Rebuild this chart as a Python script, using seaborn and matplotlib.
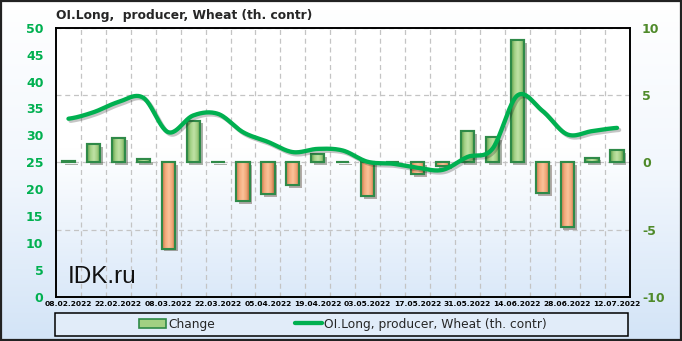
import numpy as np
import pandas as pd
import seaborn as sns
import matplotlib.pyplot as plt
from matplotlib.patches import Rectangle
from matplotlib.lines import Line2D
from matplotlib.colors import LinearSegmentedColormap
import matplotlib.patheffects as pe

# ---------------- data ----------------
dates = ["08.02.2022", "15.02.2022", "22.02.2022", "01.03.2022", "08.03.2022", "15.03.2022",
         "22.03.2022", "29.03.2022", "05.04.2022", "12.04.2022", "19.04.2022", "26.04.2022",
         "03.05.2022", "10.05.2022", "17.05.2022", "24.05.2022", "31.05.2022", "07.06.2022",
         "14.06.2022", "21.06.2022", "28.06.2022", "05.07.2022", "12.07.2022"]
change = [0.1, 1.38, 1.83, 0.22, -6.4, 3.1, 0.05, -2.9, -2.37, -1.7, 0.59, 0.05,
          -2.5, 0.03, -0.89, -0.3, 2.32, 1.87, 9.1, -2.27, -4.8, 0.35, 0.89]
oi_long = [33.1, 34.3, 36.2, 37.0, 30.6, 33.7, 34.0, 30.6, 28.8, 26.9, 27.5, 27.2,
           25.1, 24.75, 24.0, 23.6, 26.0, 27.5, 37.4, 34.6, 30.2, 30.8, 31.4]
left_ticks = [0, 5, 10, 15, 20, 25, 30, 35, 40, 45, 50]
right_ticks = [-10, -5, 0, 5, 10]
title = "OI.Long,  producer, Wheat (th. contr)"
bar_label = "Change"
line_label = "OI.Long, producer, Wheat (th. contr)"

# ---------------- style ----------------
sns.set_theme(style="white")
plt.rcParams["font.family"] = ["DejaVu Sans"]

W, H = 682, 341
fig = plt.figure(figsize=(W / 100, H / 100), dpi=100)

# figure background gradient + outer frame
bg = fig.add_axes([0, 0, 1, 1], zorder=-10)
bg.axis("off")
fig_cmap = LinearSegmentedColormap.from_list("figbg", ["#ffffff", "#f2f7fd", "#d3e4f7"])
grad = np.linspace(0, 1, 256).reshape(-1, 1)
bg.imshow(grad, aspect="auto", cmap=fig_cmap, extent=[0, 1, 0, 1], origin="upper")
bg.set_xlim(0, 1)
bg.set_ylim(0, 1)
bg.add_patch(Rectangle((0.002, 0.003), 0.996, 0.994, fill=False, edgecolor="#222222",
                       lw=1.6, transform=bg.transAxes))
# legend box
bg.add_patch(Rectangle((55.3 / W, 1 - 335.7 / H), (627.7 - 55.3) / W, 23 / H,
                       facecolor="#e1ecf9", edgecolor="black", lw=1.1,
                       transform=bg.transAxes))

# main axes (bars, right scale)
left, right, top, bottom = 56, 629.5, 27.7, 297
ax = fig.add_axes([left / W, 1 - bottom / H, (right - left) / W, (bottom - top) / H])
plot_cmap = LinearSegmentedColormap.from_list("plotbg", [(0, "#ffffff"), (0.45, "#ffffff"), (1, "#dbe9f9")])
ax.imshow(grad, aspect="auto", cmap=plot_cmap, extent=[0, 1, 0, 1], origin="upper",
          transform=ax.transAxes, zorder=0)

df = pd.DataFrame({"date": dates, "change": change})
df["sign"] = np.where(df["change"] >= 0, "pos", "neg")
sns.barplot(data=df, x="date", y="change", hue="sign",
            palette={"pos": "#a2d083", "neg": "#f5ad7e"}, dodge=False, width=0.53,
            saturation=1, edgecolor="#2f8a48", linewidth=1.5, ax=ax, legend=False, zorder=3)

# bevel-like shading inside each bar (gradient clipped to the bar drawn by seaborn)
pos_cmap = LinearSegmentedColormap.from_list("posbev", ["#5c9c48", "#a3d186", "#c0e2a6", "#9fcd80", "#4e8e3c"])
neg_cmap = LinearSegmentedColormap.from_list("negbev", ["#c47a4a", "#f3ab7c", "#fbc39b", "#efa574", "#ad683c"])
hgrad = np.linspace(0, 1, 64).reshape(1, -1)
bars = [p for p in ax.patches if isinstance(p, Rectangle)]
for p in bars:
    p.set_path_effects([pe.SimplePatchShadow(offset=(2, -2), alpha=0.4), pe.Normal()])
    x0, y0 = p.get_x(), p.get_y()
    w, h = p.get_width(), p.get_height()
    if abs(h) < 1e-9:
        continue
    cm = pos_cmap if h >= 0 else neg_cmap
    im = ax.imshow(hgrad, aspect="auto", cmap=cm, extent=[x0, x0 + w, min(y0, y0 + h), max(y0, y0 + h)],
                   zorder=3.5, interpolation="bilinear")
    im.set_clip_path(p)
    edge = Rectangle((x0, y0), w, h, fill=False, edgecolor="#2f8a48", lw=1.5, zorder=3.6)
    ax.add_patch(edge)

ax.set_xlim(-0.5, len(dates) - 0.5)
ax.set_ylim(-10, 10)
ax.set_xticks(range(0, len(dates), 2))
ax.set_xticklabels(dates[::2], fontsize=5.4, fontweight="bold", color="black")
ax.set_xticks(np.arange(0.5, len(dates) - 1, 1), minor=True)
ax.tick_params(axis="x", which="both", length=0, pad=3)
ax.grid(False)
ax.grid(axis="y", which="major", linestyle=(0, (4, 3)), color="#c4c4c4", lw=0.9)
ax.grid(axis="x", which="minor", linestyle=(0, (4, 3)), color="#c4c4c4", lw=0.9)
ax.set_axisbelow(True)
ax.set_xlabel("")
ax.set_ylabel("")

# line axis (left scale), smooth Catmull-Rom rendering of the weekly values
ax2 = ax.twinx()
ax2.yaxis.tick_left()
ax2.yaxis.set_label_position("left")
ax.yaxis.tick_right()
ax.yaxis.set_label_position("right")
ax.set_yticks(right_ticks)
ax.set_yticklabels([str(t) for t in right_ticks], fontsize=9, fontweight="bold", color="#4f8a2a")
ax.tick_params(axis="y", length=0, pad=9, labelleft=False, labelright=True)

y = np.asarray(oi_long, dtype=float)
n = len(y)
xs, ys = [], []
for i in range(n - 1):
    p0 = y[i - 1] if i > 0 else y[i]
    p1, p2 = y[i], y[i + 1]
    p3 = y[i + 2] if i + 2 < n else y[i + 1]
    t = np.linspace(0, 1, 25, endpoint=False)
    seg = 0.5 * (2 * p1 + (-p0 + p2) * t + (2 * p0 - 5 * p1 + 4 * p2 - p3) * t ** 2
                 + (-p0 + 3 * p1 - 3 * p2 + p3) * t ** 3)
    xs.extend(i + t)
    ys.extend(seg)
xs.append(n - 1)
ys.append(y[-1])
sns.lineplot(x=xs, y=ys, ax=ax2, color="#00b050", lw=3.1, sort=False,
             solid_capstyle="round",
             path_effects=[pe.SimpleLineShadow(offset=(1.5, -1.5), alpha=0.25), pe.Normal()],
             zorder=5)
ax2.set_ylim(0, 50)
ax2.set_yticks(left_ticks)
ax2.set_yticklabels([str(t) for t in left_ticks], fontsize=9, fontweight="bold", color="#00b050")
ax2.tick_params(axis="y", length=0, pad=9, labelleft=True, labelright=False)
ax2.set_xlim(-0.5, len(dates) - 0.5)
ax2.set_xlabel("")
ax2.set_ylabel("")
ax2.grid(False)
for a in (ax, ax2):
    for s in a.spines.values():
        s.set_color("black")
        s.set_linewidth(1.2)
        s.set_visible(True)

# watermark
fig.text(68 / W, 1 - 282.7 / H, "IDK.ru", fontsize=17.5, family=["Liberation Sans", "DejaVu Sans"],
         va="baseline", ha="left", color="#111111", zorder=20)

# title
fig.text(56 / W, 1 - 15 / H, title, fontsize=8.8, fontweight="bold", va="center", ha="left")

# legend
handles = [Rectangle((0, 0), 1, 1, facecolor="#a2d083", edgecolor="#2f8a48", lw=1.2),
           Line2D([], [], color="#00b050", lw=3.1, solid_capstyle="round")]
fig.legend(handles, [bar_label, line_label], loc="center", bbox_to_anchor=(343 / W, 1 - 324.2 / H),
           ncol=2, frameon=False, fontsize=8.8, handlelength=2.2, handletextpad=0.2,
           columnspacing=6.5, handleheight=0.7)

fig.savefig("out.png", dpi=100)
